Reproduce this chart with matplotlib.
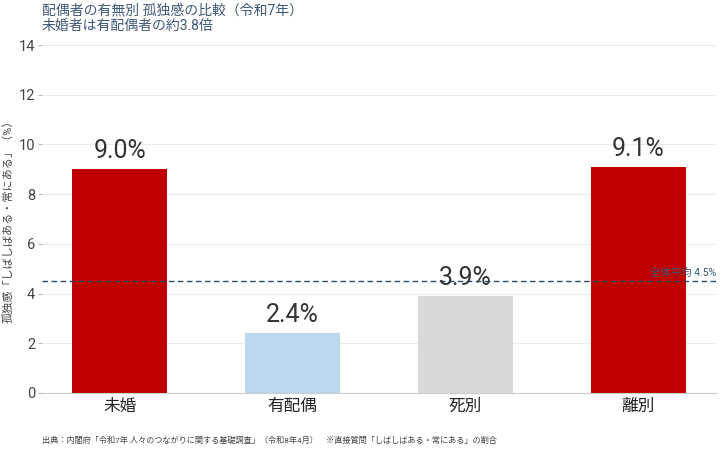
import matplotlib
matplotlib.use("Agg")
import matplotlib.pyplot as plt

plt.rcParams['font.family'] = ['Roboto', 'Noto Sans CJK JP', 'DejaVu Sans']

categories = ["未婚", "有配偶", "死別", "離別"]
values = [9.0, 2.4, 3.9, 9.1]
colors = ["#C00000", "#BDD7EE", "#D9D9D9", "#C00000"]
mean_value = 4.5
yticks = [0, 2, 4, 6, 8, 10, 12, 14]

title_color = "#3E5879"

fig = plt.figure(figsize=(7.21, 4.5), dpi=100)
ax = fig.add_axes([42/721, 1-393/450, (716-42)/721, (393-45)/450])

x = range(len(categories))
ax.bar(x, values, width=0.55, color=colors, zorder=2)
for xi, v in zip(x, values):
    ax.text(xi, v + 0.25, f"{v:.1f}%", ha="center", va="bottom", fontsize=18, color="#333333", zorder=4)

ax.axhline(mean_value, color="#2E4A6B", linestyle=(0, (4, 2.5)), linewidth=1.0, zorder=3)
ax.text(3.45, mean_value + 0.12, f"全体平均 {mean_value}%", ha="right", va="bottom",
        fontsize=7.5, color="#3E5879", zorder=4)

ax.set_xlim(-0.45, 3.45)
ax.set_ylim(0, 14)
ax.set_yticks(yticks)
ax.set_xticks(list(x))
ax.set_xticklabels(categories, fontsize=12, color="#222222")
ax.tick_params(axis="x", length=0, pad=4)
ax.tick_params(axis="y", length=3, color="#bbbbbb", labelsize=10.5, labelcolor="#444444", pad=2)
ax.grid(axis="y", color="#ebebeb", linewidth=0.8, zorder=0)
for s in ["top", "right", "left"]:
    ax.spines[s].set_visible(False)
ax.spines["bottom"].set_color("#cccccc")
ax.set_ylabel("孤独感「しばしばある・常にある」（%）", fontsize=8, color="#444444")
ax.yaxis.set_label_coords(-28/674, 0.5)

fig.text(42/721, 1-3/450, "配偶者の有無別 孤独感の比較（令和7年）\n未婚者は有配偶者の約3.8倍",
         ha="left", va="top", fontsize=10, color=title_color, linespacing=1.15)
fig.text(42/721, 1-440/450,
         "出典：内閣府「令和7年 人々のつながりに関する基礎調査」（令和8年4月）　※直接質問「しばしばある・常にある」の割合",
         ha="left", va="center", fontsize=5.9, color="#444444")

fig.savefig("out.png", dpi=100)
